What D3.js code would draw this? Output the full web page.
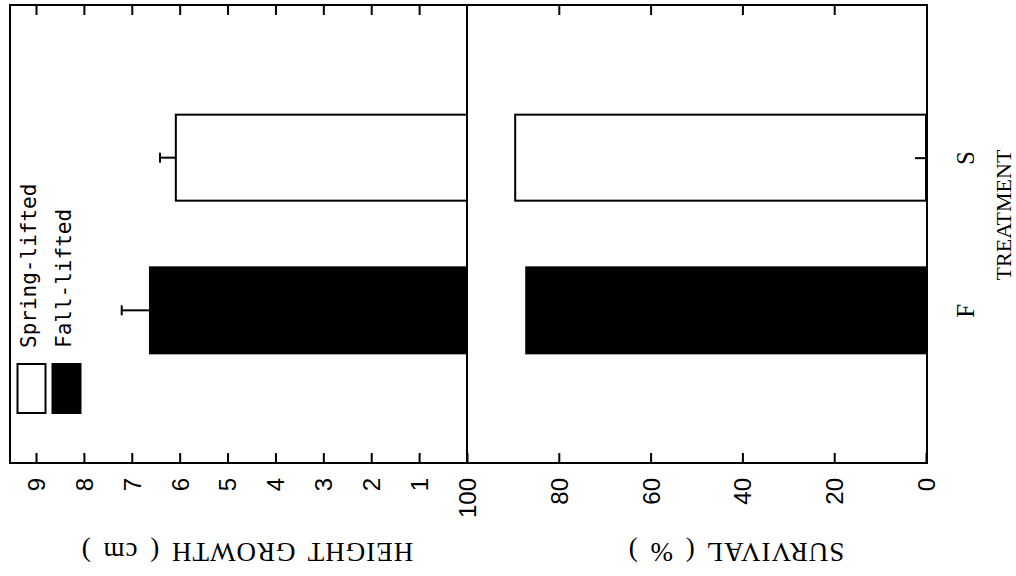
<!DOCTYPE html>
<html>
<head>
<meta charset="utf-8">
<script src="https://cdn.jsdelivr.net/npm/d3@7"></script>
<style>
  body { margin: 0; background: #fff; }
  svg { display: block; }
</style>
</head>
<body>
<div id="chart"></div>
<script>
var treatments = ["S", "F"];
var heightGrowth = [6.08, 6.62];   // cm
var heightSE = [0.33, 0.59];
var survival = [89.5, 87.1];       // %
var heightTicks = [1, 2, 3, 4, 5, 6, 7, 8, 9];
var survivalTicks = [0, 20, 40, 60, 80, 100];
var legendLabels = ["Spring-lifted", "Fall-lifted"];
var legendFills = ["#fff", "#000"];

var svgWidth = 1016, svgHeight = 576;
var frame = {"left": 10, "top": 5, "right": 927, "bottom": 463};
var barThick = 86;

var svg = d3.select("#chart").append("svg")
	.attr("width", svgWidth)
	.attr("height", svgHeight);

// value axes run horizontally, treatments vertically
var hScale = d3.scaleLinear().domain([0, 9]).range([467, 36]);
var sScale = d3.scaleLinear().domain([0, 100]).range([926, 467]);
var cScale = d3.scalePoint().domain(treatments).range([frame.top, frame.bottom]).padding(1);

// bars - height growth panel
svg.append("g").selectAll("rect")
	.data(treatments)
	.enter()
	.append("rect")
	.attr("x", function(d, i) { return hScale(heightGrowth[i]); })
	.attr("y", function(d) { return cScale(d) - barThick / 2; })
	.attr("width", function(d, i) { return hScale(0) - hScale(heightGrowth[i]); })
	.attr("height", barThick)
	.attr("fill", function(d, i) { return legendFills[i]; })
	.attr("stroke", "#000")
	.attr("stroke-width", 2);

// bars - survival panel
svg.append("g").selectAll("rect")
	.data(treatments)
	.enter()
	.append("rect")
	.attr("x", function(d, i) { return sScale(survival[i]); })
	.attr("y", function(d) { return cScale(d) - barThick / 2; })
	.attr("width", function(d, i) { return sScale(0) - sScale(survival[i]); })
	.attr("height", barThick)
	.attr("fill", function(d, i) { return legendFills[i]; })
	.attr("stroke", "#000")
	.attr("stroke-width", 2);

// error bars on height growth
var err = svg.append("g").attr("stroke", "#000").attr("stroke-width", 2);
treatments.forEach(function(t, i) {
	var y = cScale(t);
	err.append("line")
		.attr("x1", hScale(heightGrowth[i])).attr("x2", hScale(heightGrowth[i] + heightSE[i]))
		.attr("y1", y).attr("y2", y);
	err.append("line")
		.attr("x1", hScale(heightGrowth[i] + heightSE[i])).attr("x2", hScale(heightGrowth[i] + heightSE[i]))
		.attr("y1", y - 5).attr("y2", y + 5);
});

// frame and panel divider
svg.append("rect")
	.attr("x", frame.left).attr("y", frame.top)
	.attr("width", frame.right - frame.left).attr("height", frame.bottom - frame.top)
	.attr("fill", "none").attr("stroke", "#000").attr("stroke-width", 2);
svg.append("line")
	.attr("x1", hScale(0)).attr("x2", hScale(0))
	.attr("y1", frame.top).attr("y2", frame.bottom)
	.attr("stroke", "#000").attr("stroke-width", 2);

function styleAxis(g) {
	g.select(".domain").remove();
	g.selectAll(".tick line").attr("stroke", "#000").attr("stroke-width", 2);
	g.attr("font-family", "'Liberation Sans', Arial, sans-serif").attr("font-size", 24);
}

function rotateLabels(g) {
	g.selectAll(".tick text")
		.attr("x", 0).attr("y", 0)
		.attr("dy", "0.35em")
		.attr("text-anchor", "end")
		.attr("fill", "#000")
		.attr("transform", "translate(0,15) rotate(-90)");
}

// bottom axes (with labels)
svg.append("g")
	.attr("transform", "translate(0," + frame.bottom + ")")
	.call(d3.axisBottom(hScale).tickValues(heightTicks).tickSize(-10).tickFormat(d3.format("d")))
	.call(styleAxis).call(rotateLabels);

svg.append("g")
	.attr("transform", "translate(0," + frame.bottom + ")")
	.call(d3.axisBottom(sScale).tickValues(survivalTicks).tickSize(-10).tickFormat(d3.format("d")))
	.call(styleAxis).call(rotateLabels);

// top axes (ticks only)
svg.append("g")
	.attr("transform", "translate(0," + frame.top + ")")
	.call(d3.axisTop(hScale).tickValues(heightTicks).tickSize(-10).tickFormat(""))
	.call(styleAxis);
svg.append("g")
	.attr("transform", "translate(0," + frame.top + ")")
	.call(d3.axisTop(sScale).tickValues(survivalTicks.slice(1, 5)).tickSize(-10).tickFormat(""))
	.call(styleAxis);

// treatment axis on the right
var catAxis = svg.append("g")
	.attr("transform", "translate(" + frame.right + ",0)")
	.call(d3.axisRight(cScale).tickSize(-12))
	.call(styleAxis);
catAxis.attr("font-family", "'Liberation Serif', 'Times New Roman', serif").attr("font-size", 25);
catAxis.selectAll(".tick text")
	.attr("x", 0).attr("y", 0)
	.attr("dy", "0.35em")
	.attr("text-anchor", "middle")
	.attr("fill", "#000")
	.attr("transform", "translate(38,0) rotate(-90)");

svg.append("text")
	.attr("transform", "translate(1003," + (frame.top + 210) + ") rotate(-90)")
	.attr("text-anchor", "middle")
	.attr("dy", "0.35em")
	.attr("font-family", "'Liberation Serif', 'Times New Roman', serif")
	.attr("font-size", 22)
	.text("TREATMENT");

// axis titles (upside down, as in the scan)
var titles = [
	{"text": "HEIGHT GROWTH ( cm )", "x": 247},
	{"text": "SURVIVAL ( % )", "x": 736}
];
svg.append("g").selectAll("text")
	.data(titles)
	.enter()
	.append("text")
	.attr("transform", function(d) { return "translate(" + d.x + ",552) rotate(180)"; })
	.attr("text-anchor", "middle")
	.attr("dy", "0.35em")
	.attr("font-family", "'Liberation Serif', 'Times New Roman', serif")
	.attr("font-size", 27)
	.attr("letter-spacing", 1)
	.attr("word-spacing", 4)
	.text(function(d) { return d.text; });

// legend
var legendX = [31.5, 66.5];
var legend = svg.append("g").selectAll("g")
	.data(legendLabels)
	.enter()
	.append("g");
legend.append("rect")
	.attr("x", function(d, i) { return legendX[i] - 14; })
	.attr("y", 364)
	.attr("width", 28)
	.attr("height", 49)
	.attr("fill", function(d, i) { return legendFills[i]; })
	.attr("stroke", "#000")
	.attr("stroke-width", 2);
legend.append("text")
	.attr("transform", function(d, i) { return "translate(" + (legendX[i] + 4) + ",348) rotate(-90)"; })
	.attr("text-anchor", "start")
	.attr("font-family", "'DejaVu Sans Mono', monospace")
	.attr("font-size", 21)
	.text(function(d) { return d; });
</script>
</body>
</html>
